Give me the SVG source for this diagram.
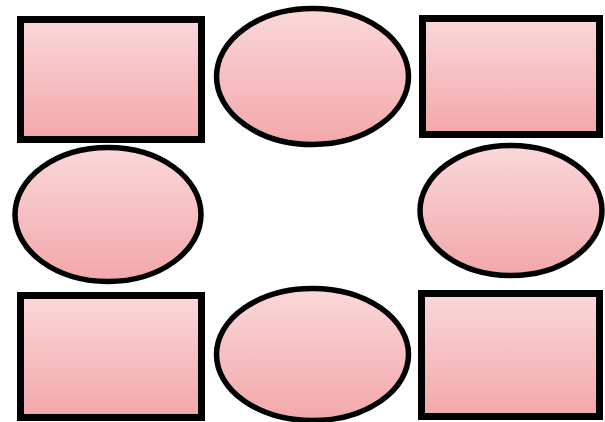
<svg xmlns="http://www.w3.org/2000/svg" width="605" height="422" viewBox="0 0 605 422">
<defs>
<linearGradient id="g" x1="0" y1="0" x2="0" y2="1">
<stop offset="0" stop-color="#fad8da"/>
<stop offset="1" stop-color="#f3a7aa"/>
</linearGradient>
</defs>
<style>
.r{fill:url(#g);stroke:#000;stroke-width:7}
.e{fill:url(#g);stroke:#000;stroke-width:5.5}
</style>
<rect width="605" height="422" fill="#fff"/>
<g id="rect-tl"><rect class="r" x="20.5" y="19.5" width="181" height="120"/></g>
<g id="ellipse-top"><ellipse class="e" cx="312.5" cy="76.5" rx="96" ry="68"/></g>
<g id="rect-tr"><rect class="r" x="422.5" y="18.5" width="177" height="116"/></g>
<g id="ellipse-left"><ellipse class="e" cx="108" cy="214.5" rx="93" ry="67"/></g>
<g id="ellipse-right"><ellipse class="e" cx="511" cy="210.5" rx="91" ry="65"/></g>
<g id="rect-bl"><rect class="r" x="20.5" y="295.5" width="181" height="122"/></g>
<g id="ellipse-bottom"><ellipse class="e" cx="312.5" cy="354.5" rx="96" ry="66"/></g>
<g id="rect-br"><rect class="r" x="421.5" y="293.5" width="178" height="123"/></g>
<g id="connectors"></g>
</svg>
